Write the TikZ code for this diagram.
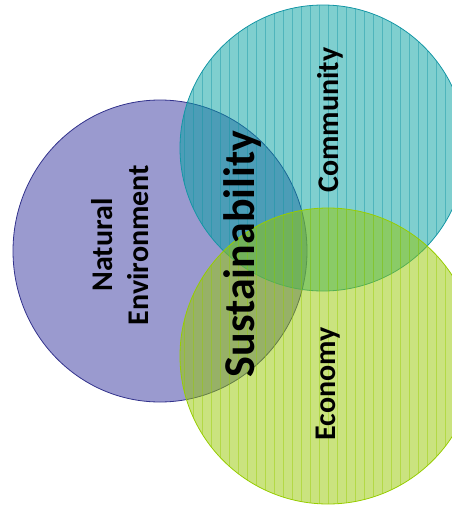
\documentclass[tikz,border=0pt]{standalone}
\usepackage{fontspec}
\setmainfont{Carlito}
\definecolor{natfill}{RGB}{154,154,207}
\definecolor{natline}{RGB}{50,50,140}
\definecolor{comfill}{RGB}{0,160,160}
\definecolor{comline}{RGB}{20,150,165}
\definecolor{ecofill}{RGB}{150,200,0}
\definecolor{ecoline}{RGB}{150,205,0}
\tikzset{
  ring/.style={line width=0.8pt},
  areatext/.style={font=\bfseries\fontsize{30}{36}\selectfont, rotate=90, align=center},
  coretext/.style={font=\bfseries\fontsize{44}{48}\selectfont, rotate=90}
}

\begin{document}
\begin{tikzpicture}[x=1pt, y=1pt]
  \useasboundingbox (0,0) rectangle (452,-506);
  \clip (0,0) rectangle (452,-506);

  % natural environment
  \draw[ring, natline, fill=natfill] (160,-251) ellipse[x radius=147, y radius=151];

  % community
  \fill[comfill, fill opacity=0.5] (323,-148) circle (143);
  \begin{scope}
    \clip (323,-148) circle (143);
    \foreach \x in {184,193,...,466}{
      \draw[comline, opacity=0.45, line width=0.6pt] (\x,0) -- (\x,-300);
    }
  \end{scope}
  \draw[ring, comline] (323,-148) circle (143);

  % economy
  \fill[ecofill, fill opacity=0.5] (328,-356) circle (148);
  \begin{scope}
    \clip (328,-356) circle (148);
    \foreach \x in {184,193,...,476}{
      \draw[ecoline, opacity=0.45, line width=0.6pt] (\x,-200) -- (\x,-506);
    }
  \end{scope}
  \draw[ring, ecoline] (328,-356) circle (148);

  \node[areatext] (nature) at (120,-245) {Natural\\Environment};
  \node[areatext] (community) at (330,-120) {Community};
  \node[areatext] (economy) at (328,-384) {Economy};
  \node[coretext] (core) at (243,-254) {Sustainability};
\end{tikzpicture}
\end{document}
